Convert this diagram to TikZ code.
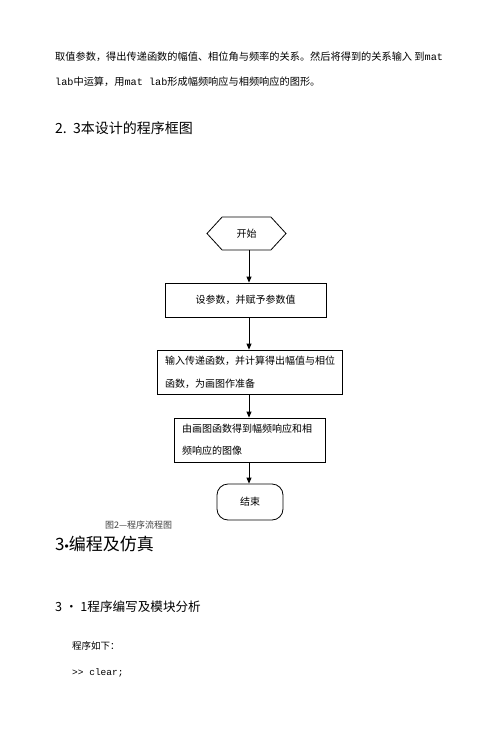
\documentclass[tikz,border=0pt]{standalone}
\usepackage{fontspec}
\setmainfont{Noto Sans CJK SC}
\newfontfamily\monof{Liberation Mono}
\newfontfamily\latf{Liberation Sans}
\usetikzlibrary{shapes.symbols,arrows.meta}
\begin{document}
\begin{tikzpicture}[x=1pt,y=-1pt,
  txt/.style={anchor=west,inner sep=0pt,font=\fontsize{10.2}{12}\selectfont},
  boxs/.style={draw,line width=0.8pt,rectangle},
  arr/.style={draw,line width=0.8pt,-{Triangle[length=6pt,width=5pt]}}]
\useasboundingbox (0,0) rectangle (500,739);
\node[txt] (l1) at (55,57) {取值参数，得出传递函数的幅值、相位角与频率的关系。然后将得到的关系输入 到{\monof mat}};
\node[txt] (l2) at (55,82) {{\monof lab}中运算，用{\monof mat lab}形成幅频响应与相频响应的图形。};
\node[txt,font=\fontsize{14}{16}\selectfont] (h1) at (55,128) {2.\ \ 3本设计的程序框图};
\coordinate (ax) at (249,0);
\node[draw,line width=0.8pt,signal,signal to=west and east,signal pointer angle=95,
  minimum width=79,minimum height=33,inner sep=0pt,font=\fontsize{10}{12}\selectfont] (start) at (246.5,233.5) {开始};
\node[boxs,minimum width=161,minimum height=34,font=\fontsize{10}{12}\selectfont] (r1) at (245.5,300) {设参数，并赋予参数值};
\node[boxs,minimum width=185,minimum height=44,text width=169,inner xsep=8,align=left,
  font=\fontsize{10}{22.7}\selectfont] (r2) at (249.5,372) {\rule{0pt}{8pt}输入传递函数，并计算得出幅值与相位\\函数，为画图作准备};
\node[boxs,minimum width=151,minimum height=44,text width=135,inner xsep=8,align=left,
  font=\fontsize{10}{22}\selectfont] (r3) at (249.5,440) {由画图函数得到幅频响应和相\\频响应的图像};
\node[boxs,rounded corners=11pt,minimum width=66,minimum height=36,font=\fontsize{10}{12}\selectfont] (end) at (250,502) {结束};
\draw[arr] (start.south -| ax) -- (r1.north -| ax);
\draw[arr] (r1.south -| ax) -- (r2.north -| ax);
\draw[arr] (r2.south -| ax) -- (r3.north -| ax);
\draw[arr] (r3.south -| ax) -- (end.north -| ax);
\node[txt,font=\fontsize{9}{11}\selectfont,text=black!75] (cap) at (105,525) {图2—程序流程图};
\node[txt,font=\fontsize{17}{20}\selectfont] (h2) at (55,544) {3{\latf\fontsize{12}{14}\selectfont•}编程及仿真};
\node[txt,font=\fontsize{12.6}{15}\selectfont] (h3) at (55,607) {3 • 1程序编写及模块分析};
\node[txt,font=\fontsize{9.5}{11}\selectfont] (p1) at (72,646) {程序如下：};
\node[txt,font=\fontsize{9.5}{11}\selectfont] (p2) at (72,673) {{\monof >> clear;}};
\end{tikzpicture}
\end{document}
